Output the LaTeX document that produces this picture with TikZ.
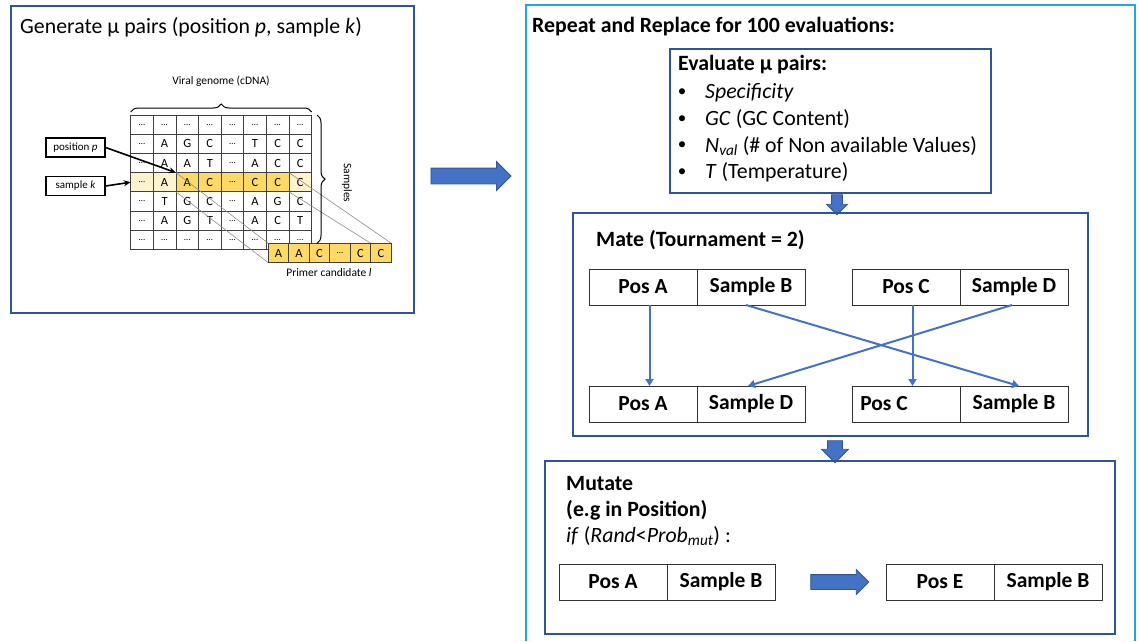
\documentclass[tikz,border=0pt]{standalone}
\usepackage{fontspec}
\setmainfont{Carlito}
\usetikzlibrary{positioning,shapes.arrows,decorations.pathreplacing,arrows.meta,calc}

\definecolor{framecol}{HTML}{2F5597}
\definecolor{loopcol}{HTML}{1FA8E0}
\definecolor{arrowblue}{HTML}{4472C4}
\definecolor{gold}{HTML}{FFD966}
\definecolor{paleyellow}{HTML}{FFF2CC}

\newcommand\elid{{\fontsize{9}{9}\selectfont\textellipsis}}

\tikzset{
  frame/.style={draw=framecol, line width=2.2pt, inner sep=0pt},
  loopframe/.style={draw=loopcol, line width=2pt},
  txt/.style={inner sep=0pt, font=\fontsize{21.8}{26}\selectfont},
  boldtxt/.style={inner sep=0pt, font=\bfseries\fontsize{21.8}{26}\selectfont},
  small/.style={inner sep=0pt, font=\fontsize{11.5}{13}\selectfont},
  cell/.style={draw=black!75, line width=0.7pt, minimum width=22.6pt, minimum height=19.2pt,
    inner sep=0pt, outer sep=0pt, font=\fontsize{12.5}{12.5}\selectfont},
  pcell/.style={cell, fill=gold, minimum width=20.5pt},
  tag/.style={draw, line width=1.3pt, minimum width=59pt, minimum height=19pt, inner sep=0pt,
    font=\fontsize{11}{12}\selectfont},
  pointer/.style={line width=1.6pt, -{Stealth[length=7pt,width=6pt]}},
  half/.style={draw=black!80, line width=0.9pt, minimum width=108pt, minimum height=36pt,
    inner sep=0pt, outer sep=0pt, font=\bfseries\fontsize{21.5}{25}\selectfont},
  mix/.style={draw=arrowblue, line width=2pt, -{Triangle[length=7pt,width=8pt]}},
  fat/.style={single arrow, fill=arrowblue, draw=arrowblue!75!black, line width=0.8pt,
    inner xsep=0pt, single arrow tip angle=90},
  mirrorbrace/.style={decorate, decoration={brace, amplitude=8pt}, line width=1pt}
}

\begin{document}
\begin{tikzpicture}[x=1pt,y=-1pt]
  \useasboundingbox (0,0) rectangle (1139,641);

  % left panel: generate pairs
  \node[frame, minimum width=403pt, minimum height=307pt, anchor=north west] (genbox) at (10,5) {};
  \node[txt, anchor=west] (gentitle) at (20,27) {Generate μ pairs (position \textit{p}, sample \textit{k})};

  \fill[paleyellow] (130.7,172.6) rectangle +(181,19.2);
  \fill[gold] (175.9,172.6) rectangle +(113,19.2);

  \foreach \line [count=\r from 0] in {
      {\elid,\elid,\elid,\elid,\elid,\elid,\elid,\elid},
      {\elid,A,G,C,\elid,T,C,C},
      {\elid,A,A,T,\elid,A,C,C},
      {\elid,A,A,C,\elid,C,C,C},
      {\elid,T,G,C,\elid,A,G,C},
      {\elid,A,G,T,\elid,A,C,T},
      {\elid,\elid,\elid,\elid,\elid,\elid,\elid,\elid}}
    \foreach \ch [count=\c from 0] in \line
      \node[cell] (g\r\c) at ({142+22.6*\c},{124.6+19.2*\r}) {\ch};

  % projection onto the primer
  \draw[black!45, line width=0.6pt] (g32.north west) -- (268.3,243.3);
  \draw[black!45, line width=0.6pt] (g32.south west) -- (268.3,262.7);
  \draw[black!45, line width=0.6pt] (g37.north west) -- (391.3,243.3);
  \draw[black!45, line width=0.6pt] (g37.south west) -- (370.8,243.3);

  \foreach \ch [count=\c from 0] in {A,A,C,\elid,C,C}
    \node[pcell] (p\c) at ({278.55+20.5*\c},253) {\ch};

  \draw[mirrorbrace] (130.7,112) -- (311.7,112);
  \draw[mirrorbrace] (317,115) -- (317,243.3);
  \node[small] (viral) at (221,81) {Viral genome (cDNA)};
  \node[small, rotate=-90] (samples) at (347,183) {Samples};
  \node[small] (primer) at (329,273) {Primer candidate \textit{l}};

  \node[tag] (posp) at (75.5,147.5) {position \textit{p}};
  \node[tag] (samk) at (75.5,186) {sample \textit{k}};
  \draw[pointer] (posp.east) -- (g32.north west);
  \draw[pointer] (samk.east) -- (g30.west);

  \node[fat, minimum height=80pt, inner ysep=7.5pt, single arrow head extend=6.5pt] (go) at (467,176) {};

  % right panel: the loop
  \draw[loopframe] (526,641) -- (526,5) -- (1135,5) -- (1135,641);
  \node[boldtxt, anchor=west] (looptitle) at (532,27) {Repeat and Replace for 100 evaluations:};

  \node[frame, minimum width=321pt, minimum height=144pt, anchor=north west] (eval) at (669,48) {};
  \node[boldtxt, anchor=west] (evaltitle) at (678,65) {Evaluate μ pairs:};
  \foreach \t [count=\i from 0] in {{\textit{Specificity}},
      {\textit{GC} (GC Content)},
      {\textit{N}\textsubscript{\textit{val}} (\# of Non available Values)},
      {\textit{T} (Temperature)}} {
    \node[inner sep=0pt, font=\fontsize{17}{17}\selectfont] (dot\i) at (682,{93+26.5*\i}) {•};
    \node[txt, anchor=west] (item\i) at (705,{93+26.5*\i}) {\t};
  }

  \node[fat, rotate=-90, minimum height=20pt, inner ysep=5pt, single arrow head extend=5pt] (down1) at (837,202) {};

  % mate
  \node[frame, minimum width=515pt, minimum height=223pt, anchor=north west] (mate) at (572,212) {};
  \node[boldtxt, anchor=west] (matetitle) at (596,240) {Mate (Tournament = 2)};

  \node[half] (tposA) at (643,287) {Pos A};
  \node[half, right=0pt of tposA] (tsampB) {Sample B};
  \node[half] (tposC) at (906,287) {Pos C};
  \node[half, right=0pt of tposC] (tsampD) {Sample D};

  \node[half] (bposA) at (643,404) {Pos A};
  \node[half, right=0pt of bposA] (bsampD) {Sample D};
  \node[half] (bposC) at (906,404) {Pos C\hspace*{44pt}};
  \node[half, right=0pt of bposC] (bsampB) {Sample B};

  \draw[mix] ([xshift=6.5pt]tposA.south) -- ([xshift=6.5pt]bposA.north);
  \draw[mix] ([xshift=-5pt]tsampB.south) -- ([xshift=5pt]bsampB.north);
  \draw[mix] ([xshift=6.5pt]tposC.south) -- ([xshift=6.5pt]bposC.north);
  \draw[mix] ([xshift=-2pt]tsampD.south) -- ([xshift=-3pt]bsampD.north);

  \node[fat, rotate=-90, minimum height=22pt, inner ysep=7pt, single arrow head extend=6pt] (down2) at (835,448) {};

  % mutate
  \node[frame, minimum width=570pt, minimum height=173pt, anchor=north west] (mutate) at (544,460) {};
  \node[boldtxt, anchor=west] (mutline1) at (566,483) {Mutate};
  \node[boldtxt, anchor=west] (mutline2) at (566,510) {(e.g in Position)};
  \node[txt, anchor=west] (mutline3) at (566,536) {\textit{if} (\textit{Rand}<\textit{Prob}\textsubscript{\textit{mut}}) :};

  \node[half] (mposA) at (613,582) {Pos A};
  \node[half, right=0pt of mposA] (msampB) {Sample B};
  \node[fat, minimum height=58pt, inner ysep=7pt, single arrow head extend=5pt] (swap) at (836,582) {};
  \node[half] (mposE) at (940,582) {Pos E};
  \node[half, right=0pt of mposE] (nsampB) {Sample B};
\end{tikzpicture}
\end{document}
